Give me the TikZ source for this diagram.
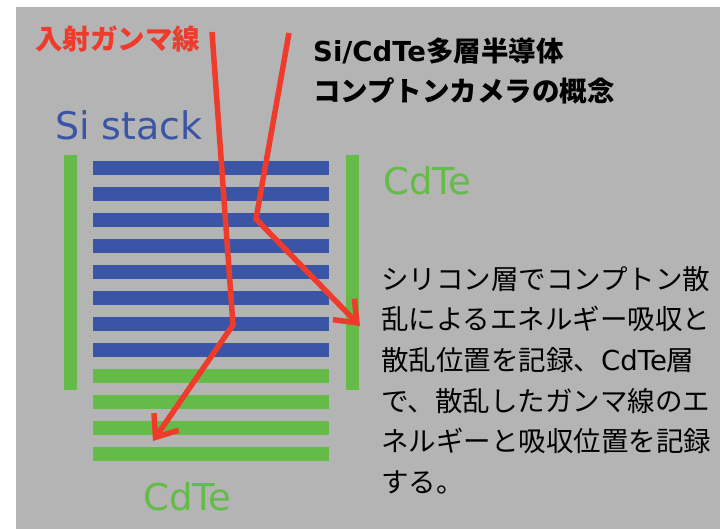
\documentclass[tikz,border=0pt]{standalone}
\usepackage{fontspec}
\setmainfont{Noto Sans CJK JP}
\newfontfamily\latinsf{DejaVu Sans}
\usetikzlibrary{arrows.meta}
\definecolor{bggray}{RGB}{180,180,180}
\definecolor{siblue}{RGB}{58,85,165}
\definecolor{cdgreen}{RGB}{100,187,72}
\definecolor{rayred}{RGB}{238,59,43}
\begin{document}
\begin{tikzpicture}[x=1pt,y=-1pt,
  ray/.style={draw=rayred, line width=5.5pt, line join=miter,
    -{Straight Barb[length=19pt,width=30pt]}},
  jtext/.style={anchor=base west, inner sep=0pt, font=\fontsize{27.5}{40.5}\selectfont},
  jbold/.style={jtext, font=\fontsize{27.5}{40.5}\selectfont\bfseries},
  ltext/.style={anchor=base west, inner sep=0pt, font=\latinsf\fontsize{37}{45}\selectfont}]
\useasboundingbox (0,0) rectangle (720,529);
\fill[white] (0,0) rectangle (720,529);
\fill[bggray] (16,7) rectangle (720,529);
% Si layers
\foreach \k in {0,...,7}
  \fill[siblue] (93,{161+26*\k}) rectangle (329,{175+26*\k});
% CdTe bottom layers
\foreach \k in {8,...,11}
  \fill[cdgreen] (93,{161+26*\k}) rectangle (329,{175+26*\k});
% CdTe side walls
\fill[cdgreen] (64,155) rectangle (77,390);
\fill[cdgreen] (346,155) rectangle (359,390);
% labels
\node[jbold, text=rayred] (lblgamma) at (35,49.5) {入射ガンマ線};
\node[jbold] (title1) at (313,61.5) {{\latinsf Si/CdTe}多層半導体};
\node[jbold] (title2) at (313,102) {コンプトンカメラの概念};
\node[ltext, text=siblue, font=\latinsf\fontsize{38}{45}\selectfont] (lblsi) at (55,140) {Si stack};
\node[ltext, text=cdgreen] (lblcdr) at (383,195) {CdTe};
\node[ltext, text=cdgreen] (lblcdb) at (143,510) {CdTe};
% description
\node[jtext] (p1) at (381,289.5) {シリコン層でコンプトン散};
\node[jtext] (p2) at (381,330) {乱によるエネルギー吸収と};
\node[jtext] (p3) at (381,370.5) {散乱位置を記録、{\latinsf CdTe}層};
\node[jtext] (p4) at (381,411.5) {で、散乱したガンマ線のエ};
\node[jtext] (p5) at (381,451) {ネルギーと吸収位置を記録};
\node[jtext] (p6) at (381,492.5) {する。};
% gamma rays
\coordinate (r1a) at (212,32);
\coordinate (r1b) at (233,325);
\coordinate (r1c) at (153,441);
\coordinate (r2a) at (289,33);
\coordinate (r2b) at (256,219);
\coordinate (r2c) at (360,326);
\draw[ray] (r1a) -- (r1b) -- (r1c);
\draw[ray] (r2a) -- (r2b) -- (r2c);
\end{tikzpicture}
\end{document}
